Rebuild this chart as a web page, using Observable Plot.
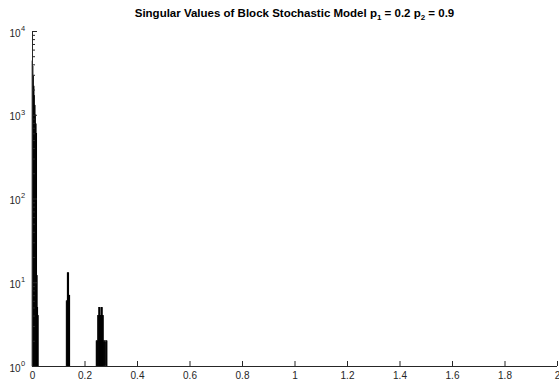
<!DOCTYPE html>
<html>
<head>
<meta charset="utf-8">
<script src="https://cdn.jsdelivr.net/npm/d3@7"></script>
<script src="https://cdn.jsdelivr.net/npm/@observablehq/plot@0.6"></script>
<style>
  body { margin: 0; background: #fff; }
  #wrap { position: relative; width: 559px; height: 387px; }
  #title { position: absolute; left: 32px; width: 525px; top: 7px; text-align: center;
    font: bold 11.5px "Liberation Sans", Arial, Helvetica, sans-serif; color: #000; white-space: nowrap; }
  #title sub { font-size: 8px; vertical-align: -3px; line-height: 0; }
</style>
</head>
<body>
<div id="wrap">
  <div id="title">Singular Values of Block Stochastic Model p<sub>1</sub> = 0.2 p<sub>2</sub> = 0.9</div>
</div>
<script>
// Histogram bins (left edges) and counts, bin width 0.002
const binWidth = 0.002;
const binStarts = [
  0.000, 0.002, 0.004, 0.006, 0.008, 0.010, 0.012, 0.014, 0.016, 0.018, 0.020, 0.022,
  0.130, 0.132, 0.134, 0.136, 0.138, 0.140, 0.142,
  0.244, 0.246, 0.248, 0.250, 0.252, 0.254, 0.256, 0.258, 0.260, 0.262, 0.264, 0.266, 0.268,
  0.270, 0.272, 0.274, 0.276, 0.280, 0.282, 0.284
];
const counts = [
  4400, 3800, 2900, 2200, 1700, 1300, 1000, 780, 600, 12, 5, 4,
  6, 6, 13, 13, 13, 7, 7,
  2, 2, 2, 4, 4, 5, 5, 4, 4, 5, 5, 5, 4,
  4, 2, 2, 2, 2, 2, 2
];
const xTicks = [0, 0.2, 0.4, 0.6, 0.8, 1, 1.2, 1.4, 1.6, 1.8, 2];
const xTickLabels = ["0", "0.2", "0.4", "0.6", "0.8", "1", "1.2", "1.4", "1.6", "1.8", "2"];
const yMajor = [1, 10, 100, 1000, 10000];
const yExponents = ["0", "1", "2", "3", "4"];
const yMinor = [2, 3, 4, 5, 6, 7, 8, 9, 20, 30, 40, 50, 60, 70, 80, 90,
  200, 300, 400, 500, 600, 700, 800, 900, 2000, 3000, 4000, 5000, 6000, 7000, 8000, 9000];

const bins = binStarts.map((s, i) => ({x1: s, x2: s + binWidth, count: counts[i]}));
const axisColor = "#262626";
const font = '"Liberation Sans", Arial, Helvetica, sans-serif';

const chart = Plot.plot({
  width: 559,
  height: 387,
  marginTop: 31,
  marginBottom: 21,
  marginLeft: 32,
  marginRight: 2,
  style: {fontFamily: font, fontSize: "10px", color: axisColor, background: "white"},
  x: {domain: [0, 2], axis: null, label: null},
  y: {type: "log", domain: [1, 10000], axis: null, label: null},
  marks: [
    Plot.rectY(bins, {x1: "x1", x2: "x2", y1: 1, y2: "count", fill: "black", stroke: "black", strokeWidth: 0.6}),
    Plot.ruleY([1], {stroke: axisColor, strokeWidth: 1}),
    Plot.ruleX([0], {stroke: axisColor, strokeWidth: 1}),
    Plot.axisX({ticks: xTicks, tickSize: -5, tickFormat: () => "", stroke: axisColor, label: null}),
    Plot.axisY({ticks: yMajor, tickSize: -5, tickFormat: () => "", stroke: axisColor, label: null}),
    Plot.axisY({ticks: yMinor, tickSize: -3, tickFormat: () => "", stroke: axisColor, label: null}),
    Plot.text(xTicks, {x: d => d, text: (d, i) => xTickLabels[i], frameAnchor: "bottom", dy: 12, fill: axisColor, fontSize: 10}),
    Plot.text(yMajor, {y: d => d, text: () => "10", frameAnchor: "left", textAnchor: "end", dx: -12, dy: 2, fill: axisColor, fontSize: 10}),
    Plot.text(yMajor, {y: d => d, text: (d, i) => yExponents[i], frameAnchor: "left", textAnchor: "start", dx: -11.5, dy: -3, fill: axisColor, fontSize: 7.5})
  ]
});
chart.style.position = "absolute";
chart.style.left = "0px";
chart.style.top = "0px";
document.getElementById("wrap").prepend(chart);
</script>
</body>
</html>
